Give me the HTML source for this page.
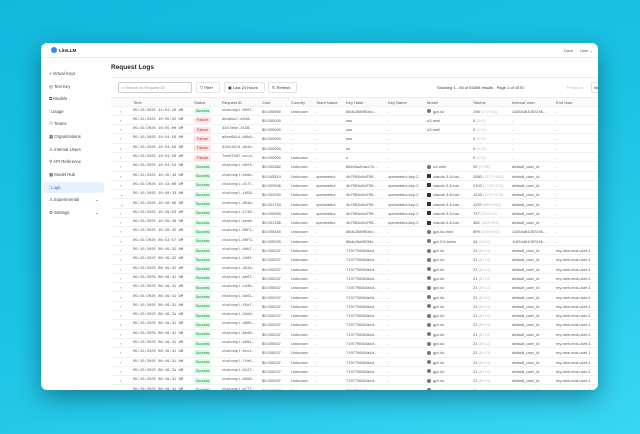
<!DOCTYPE html>
<html><head><meta charset="utf-8"><style>
*{margin:0;padding:0;box-sizing:border-box}
body{width:640px;height:434px;overflow:hidden;background:linear-gradient(160deg,#12b9dc 0%,#1cc3e4 50%,#38d6f4 100%);font-family:"Liberation Sans",sans-serif;position:relative}
.win{position:absolute;left:41px;top:43px;width:557px;height:347px;background:#fff;border-radius:6px;overflow:hidden;box-shadow:0 8px 24px rgba(0,40,60,.45)}
.hdr{position:absolute;left:0;top:0;width:557px;height:15px;border-bottom:1px solid #eee}
.logo{position:absolute;left:10px;top:4px;width:6px;height:6px;border-radius:50%;background:#3b82f6}
.t{position:absolute;font-size:4px;color:#555;white-space:nowrap;line-height:5px}
.side .t{font-size:4.3px;color:#444}
.sel{position:absolute;left:2px;top:139px;width:61px;height:11px;background:#e6f3ff;border-radius:3px}
.main{position:absolute;left:70px;top:15px;width:487px;height:332px;background:#fff}
.card{position:absolute;left:0;top:19px;width:487px;height:320px;border-top:1px solid #eee}
.btn{position:absolute;height:11px;border:1px solid #e3e3e3;border-radius:2px;background:#fff}
.row{position:absolute;left:0;width:487px;height:9.3px;border-bottom:1px solid #f0f0f0}
.row .t{top:2px}
.b{position:absolute;top:1.6px;left:83px;width:17px;height:6px;border-radius:1.5px;font-size:3.6px;line-height:6px;text-align:center}
.s{background:#dcfce7;color:#16803c}.f{background:#fee2e2;color:#c02626}
.m{font-family:"Liberation Mono",monospace;font-size:3.8px}
.i{position:absolute;top:2.5px;left:316px;width:4px;height:4px;border-radius:50%;background:#777}
.g{color:#bbb}
</style></head><body>
<div class="win">
<div class="hdr"><div class="logo"></div><div class="t" style="left:18px;top:5px;font-weight:bold;color:#222;font-size:4.5px">LiteLLM</div>
<div class="t" style="left:523px;top:5px">Docs</div><div class="t" style="left:539px;top:5px">User ⌄</div></div>
<div class="side">
<div class="sel"></div>
<div class="t" style="left:8px;top:27.5px">⌕ Virtual Keys</div>
<div class="t" style="left:8px;top:41px">◎ Test Key</div>
<div class="t" style="left:8px;top:53px">⧉ Models</div>
<div class="t" style="left:8px;top:66px">⫶ Usage</div>
<div class="t" style="left:8px;top:78px">⚇ Teams</div>
<div class="t" style="left:8px;top:91px">▦ Organizations</div>
<div class="t" style="left:8px;top:104px">♙ Internal Users</div>
<div class="t" style="left:8px;top:116px">⚲ API Reference</div>
<div class="t" style="left:8px;top:129px">▦ Model Hub</div>
<div class="t" style="left:8px;top:142px;color:#2563eb">⫶ Logs</div>
<div class="t" style="left:8px;top:154px">♙ Experimental</div><div class="t" style="left:54px;top:154px">⌄</div>
<div class="t" style="left:8px;top:167px">⚙ Settings</div><div class="t" style="left:54px;top:167px">⌄</div>
</div>
<div class="main">
<div class="t" style="left:0;top:6px;font-size:6.5px;font-weight:bold;color:#222;line-height:8px">Request Logs</div>
<div class="card">
<div class="btn" style="left:7px;top:4px;width:74px;border-color:#ccc"></div><div class="t" style="left:11px;top:7px;color:#999">⌕ Search by Request ID</div>
<div class="btn" style="left:85px;top:4px;width:24px"></div><div class="t" style="left:89px;top:7px;color:#333">▽ Filter</div>
<div class="btn" style="left:113px;top:4px;width:41px"></div><div class="t" style="left:117px;top:7px;color:#333">▣ Last 24 Hours</div>
<div class="btn" style="left:157px;top:4px;width:29px"></div><div class="t" style="left:161px;top:7px;color:#333">↻ Refresh</div>
<div class="t" style="left:326px;top:7px;color:#333">Showing 1 - 50 of 53494 results&nbsp;&nbsp; Page 1 of 1070</div>
<div class="t" style="left:456px;top:7px;color:#bbb">Previous</div>
<div class="btn" style="left:480px;top:4px;width:12px"></div><div class="t" style="left:483px;top:7px;color:#333">Ne</div>
<div class="row" style="top:19px;height:10px;background:#fafafa;border-top:1px solid #eee"><div class="t" style="left:22px">Time</div><div class="t" style="left:83px">Status</div><div class="t" style="left:111px">Request ID</div><div class="t" style="left:151px">Cost</div><div class="t" style="left:180px">Country</div><div class="t" style="left:205px">Team Name</div><div class="t" style="left:235px">Key Hash</div><div class="t" style="left:277px">Key Name</div><div class="t" style="left:316px">Model</div><div class="t" style="left:362px">Tokens</div><div class="t" style="left:401px">Internal User</div><div class="t" style="left:445px">End User</div></div>
</div>
<!-- rows -->
<div style="position:absolute;left:0;top:48.5px;width:487px">
<div class="row" style="top:0"><div class="t" style="left:9px">›</div><div class="t m" style="left:22px">05/15/2025 11:02:18 AM</div><div class="b s">Success</div><div class="t m" style="left:111px">chatcmpl-8007…</div><div class="t" style="left:151px">$0.000690</div><div class="t" style="left:180px">Unknown</div><div class="t" style="left:205px">-</div><div class="t" style="left:235px">88dc28d9f034c…</div><div class="t" style="left:277px">-</div><div class="i"></div><div class="t" style="left:322px">gpt-4o</div><div class="t" style="left:362px">198 <span class="g">(172+26)</span></div><div class="t" style="left:401px">11654481087246…</div><div class="t" style="left:445px">-</div></div>
<div class="row" style="top:9.3px"><div class="t" style="left:9px">›</div><div class="t m" style="left:22px">05/15/2025 10:55:02 AM</div><div class="b f">Failure</div><div class="t m" style="left:111px">d8da5a7-e048…</div><div class="t" style="left:151px">$0.000000</div><div class="t" style="left:180px">-</div><div class="t" style="left:205px">-</div><div class="t" style="left:235px">sss</div><div class="t" style="left:277px">-</div><div class="t" style="left:316px">o3-mini</div><div class="t" style="left:362px">0 <span class="g">(0+0)</span></div><div class="t" style="left:401px">-</div><div class="t" style="left:445px">-</div></div>
<div class="row" style="top:18.6px"><div class="t" style="left:9px">›</div><div class="t m" style="left:22px">05/15/2025 10:55:00 AM</div><div class="b f">Failure</div><div class="t m" style="left:111px">4347e8e-3138…</div><div class="t" style="left:151px">$0.000000</div><div class="t" style="left:180px">-</div><div class="t" style="left:205px">-</div><div class="t" style="left:235px">sss</div><div class="t" style="left:277px">-</div><div class="t" style="left:316px">o3-mini</div><div class="t" style="left:362px">0 <span class="g">(0+0)</span></div><div class="t" style="left:401px">-</div><div class="t" style="left:445px">-</div></div>
<div class="row" style="top:27.9px"><div class="t" style="left:9px">›</div><div class="t m" style="left:22px">05/15/2025 10:54:59 AM</div><div class="b f">Failure</div><div class="t m" style="left:111px">a8ee6814-b8b8…</div><div class="t" style="left:151px">$0.000000</div><div class="t" style="left:180px">-</div><div class="t" style="left:205px">-</div><div class="t" style="left:235px">sss</div><div class="t" style="left:277px">-</div><div class="t" style="left:362px">0 <span class="g">(0+0)</span></div><div class="t" style="left:401px">-</div><div class="t" style="left:445px">-</div></div>
<div class="row" style="top:37.2px"><div class="t" style="left:9px">›</div><div class="t m" style="left:22px">05/15/2025 10:54:59 AM</div><div class="b f">Failure</div><div class="t m" style="left:111px">334c187d-4b4e…</div><div class="t" style="left:151px">$0.000000</div><div class="t" style="left:180px">-</div><div class="t" style="left:205px">-</div><div class="t" style="left:235px">ss</div><div class="t" style="left:277px">-</div><div class="t" style="left:362px">0 <span class="g">(0+0)</span></div><div class="t" style="left:401px">-</div><div class="t" style="left:445px">-</div></div>
<div class="row" style="top:46.5px"><div class="t" style="left:9px">›</div><div class="t m" style="left:22px">05/15/2025 10:54:58 AM</div><div class="b f">Failure</div><div class="t m" style="left:111px">7eb67387-bcc2…</div><div class="t" style="left:151px">$0.000000</div><div class="t" style="left:180px">Unknown</div><div class="t" style="left:205px">-</div><div class="t" style="left:235px">s</div><div class="t" style="left:277px">-</div><div class="t" style="left:362px">0 <span class="g">(0+0)</span></div><div class="t" style="left:401px">-</div><div class="t" style="left:445px">-</div></div>
<div class="row" style="top:55.8px"><div class="t" style="left:9px">›</div><div class="t m" style="left:22px">05/15/2025 10:54:54 AM</div><div class="b s">Success</div><div class="t m" style="left:111px">chatcmpl-b8f4…</div><div class="t" style="left:151px">$0.000382</div><div class="t" style="left:180px">Unknown</div><div class="t" style="left:205px">-</div><div class="t" style="left:235px">86ec5a2eac17e…</div><div class="t" style="left:277px">-</div><div class="i"></div><div class="t" style="left:322px">o3-mini</div><div class="t" style="left:362px">92 <span class="g">(7+85)</span></div><div class="t" style="left:401px">default_user_id</div><div class="t" style="left:445px">-</div></div>
<div class="row" style="top:65.1px"><div class="t" style="left:9px">›</div><div class="t m" style="left:22px">05/15/2025 10:45:49 AM</div><div class="b s">Success</div><div class="t m" style="left:111px">chatcmpl-eb6e…</div><div class="t" style="left:151px">$0.003514</div><div class="t" style="left:180px">Unknown</div><div class="t" style="left:205px">openwebui</div><div class="t" style="left:235px">4b7953c6cf795…</div><div class="t" style="left:277px">openwebui-key-2</div><div class="i" style="background:#333;border-radius:0"></div><div class="t" style="left:322px">claude-3-5-hai…</div><div class="t" style="left:362px">2580 <span class="g">(2127+453)</span></div><div class="t" style="left:401px">default_user_id</div><div class="t" style="left:445px">-</div></div>
<div class="row" style="top:74.4px"><div class="t" style="left:9px">›</div><div class="t m" style="left:22px">05/15/2025 10:43:00 AM</div><div class="b s">Success</div><div class="t m" style="left:111px">chatcmpl-4177…</div><div class="t" style="left:151px">$0.002906</div><div class="t" style="left:180px">Unknown</div><div class="t" style="left:205px">openwebui</div><div class="t" style="left:235px">4b7953c6cf795…</div><div class="t" style="left:277px">openwebui-key-2</div><div class="i" style="background:#333;border-radius:0"></div><div class="t" style="left:322px">claude-3-5-hai…</div><div class="t" style="left:362px">2102 <span class="g">(1732+370)</span></div><div class="t" style="left:401px">default_user_id</div><div class="t" style="left:445px">-</div></div>
<div class="row" style="top:83.7px"><div class="t" style="left:9px">⌄</div><div class="t m" style="left:22px">05/15/2025 10:40:33 AM</div><div class="b s">Success</div><div class="t m" style="left:111px">chatcmpl-1858…</div><div class="t" style="left:151px">$0.002030</div><div class="t" style="left:180px">Unknown</div><div class="t" style="left:205px">openwebui</div><div class="t" style="left:235px">4b7953c6cf795…</div><div class="t" style="left:277px">openwebui-key-2</div><div class="i" style="background:#333;border-radius:0"></div><div class="t" style="left:322px">claude-3-5-hai…</div><div class="t" style="left:362px">1433 <span class="g">(1157+276)</span></div><div class="t" style="left:401px">default_user_id</div><div class="t" style="left:445px">-</div></div>
<div class="row" style="top:93px"><div class="t" style="left:9px">⌄</div><div class="t m" style="left:22px">05/15/2025 10:40:08 AM</div><div class="b s">Success</div><div class="t m" style="left:111px">chatcmpl-803a…</div><div class="t" style="left:151px">$0.001734</div><div class="t" style="left:180px">Unknown</div><div class="t" style="left:205px">openwebui</div><div class="t" style="left:235px">4b7953c6cf795…</div><div class="t" style="left:277px">openwebui-key-2</div><div class="i" style="background:#333;border-radius:0"></div><div class="t" style="left:322px">claude-3-5-hai…</div><div class="t" style="left:362px">1139 <span class="g">(885+254)</span></div><div class="t" style="left:401px">default_user_id</div><div class="t" style="left:445px">-</div></div>
<div class="row" style="top:102.3px"><div class="t" style="left:9px">›</div><div class="t m" style="left:22px">05/15/2025 10:39:53 AM</div><div class="b s">Success</div><div class="t m" style="left:111px">chatcmpl-1748…</div><div class="t" style="left:151px">$0.000955</div><div class="t" style="left:180px">Unknown</div><div class="t" style="left:205px">openwebui</div><div class="t" style="left:235px">4b7953c6cf795…</div><div class="t" style="left:277px">openwebui-key-2</div><div class="i" style="background:#333;border-radius:0"></div><div class="t" style="left:322px">claude-3-5-hai…</div><div class="t" style="left:362px">727 <span class="g">(704+23)</span></div><div class="t" style="left:401px">default_user_id</div><div class="t" style="left:445px">-</div></div>
<div class="row" style="top:111.6px"><div class="t" style="left:9px">›</div><div class="t m" style="left:22px">05/15/2025 10:39:46 AM</div><div class="b s">Success</div><div class="t m" style="left:111px">chatcmpl-eea6…</div><div class="t" style="left:151px">$0.001336</div><div class="t" style="left:180px">Unknown</div><div class="t" style="left:205px">openwebui</div><div class="t" style="left:235px">4b7953c6cf795…</div><div class="t" style="left:277px">openwebui-key-2</div><div class="i" style="background:#333;border-radius:0"></div><div class="t" style="left:322px">claude-3-5-hai…</div><div class="t" style="left:362px">482 <span class="g">(180+302)</span></div><div class="t" style="left:401px">default_user_id</div><div class="t" style="left:445px">-</div></div>
<div class="row" style="top:120.9px"><div class="t" style="left:9px">›</div><div class="t m" style="left:22px">05/15/2025 10:38:45 AM</div><div class="b s">Success</div><div class="t m" style="left:111px">chatcmpl-80F1…</div><div class="t" style="left:151px">$0.000445</div><div class="t" style="left:180px">Unknown</div><div class="t" style="left:205px">-</div><div class="t" style="left:235px">88dc28d9f034c…</div><div class="t" style="left:277px">-</div><div class="i"></div><div class="t" style="left:322px">gpt-4o-mini</div><div class="t" style="left:362px">899 <span class="g">(209+690)</span></div><div class="t" style="left:401px">11654481087246…</div><div class="t" style="left:445px">-</div></div>
<div class="row" style="top:130.2px"><div class="t" style="left:9px">›</div><div class="t m" style="left:22px">05/15/2025 09:53:57 AM</div><div class="b s">Success</div><div class="t m" style="left:111px">chatcmpl-80F3…</div><div class="t" style="left:151px">$0.000025</div><div class="t" style="left:180px">Unknown</div><div class="t" style="left:205px">-</div><div class="t" style="left:235px">88dc28d9f034c…</div><div class="t" style="left:277px">-</div><div class="i"></div><div class="t" style="left:322px">gpt-3.5-turbo</div><div class="t" style="left:362px">44 <span class="g">(41+3)</span></div><div class="t" style="left:401px">11654481087246…</div><div class="t" style="left:445px">-</div></div>
<div class="row" style="top:139.5px"><div class="t" style="left:9px">›</div><div class="t m" style="left:22px">05/15/2025 08:49:32 AM</div><div class="b s">Success</div><div class="t m" style="left:111px">chatcmpl-6db7…</div><div class="t" style="left:151px">$0.000037</div><div class="t" style="left:180px">Unknown</div><div class="t" style="left:205px">-</div><div class="t" style="left:235px">719779841fa4d…</div><div class="t" style="left:277px">-</div><div class="i"></div><div class="t" style="left:322px">gpt-4o</div><div class="t" style="left:362px">21 <span class="g">(8+13)</span></div><div class="t" style="left:401px">default_user_id</div><div class="t" style="left:445px">my-new-end-user-1</div></div>
<div class="row" style="top:148.8px"><div class="t" style="left:9px">›</div><div class="t m" style="left:22px">05/15/2025 08:49:32 AM</div><div class="b s">Success</div><div class="t m" style="left:111px">chatcmpl-2d0f…</div><div class="t" style="left:151px">$0.000037</div><div class="t" style="left:180px">Unknown</div><div class="t" style="left:205px">-</div><div class="t" style="left:235px">719779841fa4d…</div><div class="t" style="left:277px">-</div><div class="i"></div><div class="t" style="left:322px">gpt-4o</div><div class="t" style="left:362px">21 <span class="g">(8+13)</span></div><div class="t" style="left:401px">default_user_id</div><div class="t" style="left:445px">my-new-end-user-1</div></div>
<div class="row" style="top:158.1px"><div class="t" style="left:9px">›</div><div class="t m" style="left:22px">05/15/2025 08:49:32 AM</div><div class="b s">Success</div><div class="t m" style="left:111px">chatcmpl-d52a…</div><div class="t" style="left:151px">$0.000037</div><div class="t" style="left:180px">Unknown</div><div class="t" style="left:205px">-</div><div class="t" style="left:235px">719779841fa4d…</div><div class="t" style="left:277px">-</div><div class="i"></div><div class="t" style="left:322px">gpt-4o</div><div class="t" style="left:362px">21 <span class="g">(8+13)</span></div><div class="t" style="left:401px">default_user_id</div><div class="t" style="left:445px">my-new-end-user-1</div></div>
<div class="row" style="top:167.4px"><div class="t" style="left:9px">›</div><div class="t m" style="left:22px">05/15/2025 08:49:31 AM</div><div class="b s">Success</div><div class="t m" style="left:111px">chatcmpl-a087…</div><div class="t" style="left:151px">$0.000037</div><div class="t" style="left:180px">Unknown</div><div class="t" style="left:205px">-</div><div class="t" style="left:235px">719779841fa4d…</div><div class="t" style="left:277px">-</div><div class="i"></div><div class="t" style="left:322px">gpt-4o</div><div class="t" style="left:362px">21 <span class="g">(8+13)</span></div><div class="t" style="left:401px">default_user_id</div><div class="t" style="left:445px">my-new-end-user-1</div></div>
<div class="row" style="top:176.7px"><div class="t" style="left:9px">›</div><div class="t m" style="left:22px">05/15/2025 08:49:31 AM</div><div class="b s">Success</div><div class="t m" style="left:111px">chatcmpl-cd3b…</div><div class="t" style="left:151px">$0.000037</div><div class="t" style="left:180px">Unknown</div><div class="t" style="left:205px">-</div><div class="t" style="left:235px">719779841fa4d…</div><div class="t" style="left:277px">-</div><div class="i"></div><div class="t" style="left:322px">gpt-4o</div><div class="t" style="left:362px">21 <span class="g">(8+13)</span></div><div class="t" style="left:401px">default_user_id</div><div class="t" style="left:445px">my-new-end-user-1</div></div>
<div class="row" style="top:186px"><div class="t" style="left:9px">›</div><div class="t m" style="left:22px">05/15/2025 08:49:31 AM</div><div class="b s">Success</div><div class="t m" style="left:111px">chatcmpl-da61…</div><div class="t" style="left:151px">$0.000037</div><div class="t" style="left:180px">Unknown</div><div class="t" style="left:205px">-</div><div class="t" style="left:235px">719779841fa4d…</div><div class="t" style="left:277px">-</div><div class="i"></div><div class="t" style="left:322px">gpt-4o</div><div class="t" style="left:362px">21 <span class="g">(8+13)</span></div><div class="t" style="left:401px">default_user_id</div><div class="t" style="left:445px">my-new-end-user-1</div></div>
<div class="row" style="top:195.3px"><div class="t" style="left:9px">›</div><div class="t m" style="left:22px">05/15/2025 08:49:31 AM</div><div class="b s">Success</div><div class="t m" style="left:111px">chatcmpl-f5e7…</div><div class="t" style="left:151px">$0.000037</div><div class="t" style="left:180px">Unknown</div><div class="t" style="left:205px">-</div><div class="t" style="left:235px">719779841fa4d…</div><div class="t" style="left:277px">-</div><div class="i"></div><div class="t" style="left:322px">gpt-4o</div><div class="t" style="left:362px">21 <span class="g">(8+13)</span></div><div class="t" style="left:401px">default_user_id</div><div class="t" style="left:445px">my-new-end-user-1</div></div>
<div class="row" style="top:204.6px"><div class="t" style="left:9px">›</div><div class="t m" style="left:22px">05/15/2025 08:49:31 AM</div><div class="b s">Success</div><div class="t m" style="left:111px">chatcmpl-43e9…</div><div class="t" style="left:151px">$0.000037</div><div class="t" style="left:180px">Unknown</div><div class="t" style="left:205px">-</div><div class="t" style="left:235px">719779841fa4d…</div><div class="t" style="left:277px">-</div><div class="i"></div><div class="t" style="left:322px">gpt-4o</div><div class="t" style="left:362px">21 <span class="g">(8+13)</span></div><div class="t" style="left:401px">default_user_id</div><div class="t" style="left:445px">my-new-end-user-1</div></div>
<div class="row" style="top:213.9px"><div class="t" style="left:9px">›</div><div class="t m" style="left:22px">05/15/2025 08:49:31 AM</div><div class="b s">Success</div><div class="t m" style="left:111px">chatcmpl-d865…</div><div class="t" style="left:151px">$0.000037</div><div class="t" style="left:180px">Unknown</div><div class="t" style="left:205px">-</div><div class="t" style="left:235px">719779841fa4d…</div><div class="t" style="left:277px">-</div><div class="i"></div><div class="t" style="left:322px">gpt-4o</div><div class="t" style="left:362px">21 <span class="g">(8+13)</span></div><div class="t" style="left:401px">default_user_id</div><div class="t" style="left:445px">my-new-end-user-1</div></div>
<div class="row" style="top:223.2px"><div class="t" style="left:9px">›</div><div class="t m" style="left:22px">05/15/2025 08:49:31 AM</div><div class="b s">Success</div><div class="t m" style="left:111px">chatcmpl-6ed8…</div><div class="t" style="left:151px">$0.000037</div><div class="t" style="left:180px">Unknown</div><div class="t" style="left:205px">-</div><div class="t" style="left:235px">719779841fa4d…</div><div class="t" style="left:277px">-</div><div class="i"></div><div class="t" style="left:322px">gpt-4o</div><div class="t" style="left:362px">21 <span class="g">(8+13)</span></div><div class="t" style="left:401px">default_user_id</div><div class="t" style="left:445px">my-new-end-user-1</div></div>
<div class="row" style="top:232.5px"><div class="t" style="left:9px">›</div><div class="t m" style="left:22px">05/15/2025 08:49:31 AM</div><div class="b s">Success</div><div class="t m" style="left:111px">chatcmpl-e891…</div><div class="t" style="left:151px">$0.000037</div><div class="t" style="left:180px">Unknown</div><div class="t" style="left:205px">-</div><div class="t" style="left:235px">719779841fa4d…</div><div class="t" style="left:277px">-</div><div class="i"></div><div class="t" style="left:322px">gpt-4o</div><div class="t" style="left:362px">21 <span class="g">(8+13)</span></div><div class="t" style="left:401px">default_user_id</div><div class="t" style="left:445px">my-new-end-user-1</div></div>
<div class="row" style="top:241.8px"><div class="t" style="left:9px">›</div><div class="t m" style="left:22px">05/15/2025 08:49:31 AM</div><div class="b s">Success</div><div class="t m" style="left:111px">chatcmpl-6cc1…</div><div class="t" style="left:151px">$0.000037</div><div class="t" style="left:180px">Unknown</div><div class="t" style="left:205px">-</div><div class="t" style="left:235px">719779841fa4d…</div><div class="t" style="left:277px">-</div><div class="i"></div><div class="t" style="left:322px">gpt-4o</div><div class="t" style="left:362px">21 <span class="g">(8+13)</span></div><div class="t" style="left:401px">default_user_id</div><div class="t" style="left:445px">my-new-end-user-1</div></div>
<div class="row" style="top:251.1px"><div class="t" style="left:9px">›</div><div class="t m" style="left:22px">05/15/2025 08:49:31 AM</div><div class="b s">Success</div><div class="t m" style="left:111px">chatcmpl-7fe5…</div><div class="t" style="left:151px">$0.000037</div><div class="t" style="left:180px">Unknown</div><div class="t" style="left:205px">-</div><div class="t" style="left:235px">719779841fa4d…</div><div class="t" style="left:277px">-</div><div class="i"></div><div class="t" style="left:322px">gpt-4o</div><div class="t" style="left:362px">21 <span class="g">(8+13)</span></div><div class="t" style="left:401px">default_user_id</div><div class="t" style="left:445px">my-new-end-user-1</div></div>
<div class="row" style="top:260.4px"><div class="t" style="left:9px">›</div><div class="t m" style="left:22px">05/15/2025 08:49:31 AM</div><div class="b s">Success</div><div class="t m" style="left:111px">chatcmpl-8147…</div><div class="t" style="left:151px">$0.000037</div><div class="t" style="left:180px">Unknown</div><div class="t" style="left:205px">-</div><div class="t" style="left:235px">719779841fa4d…</div><div class="t" style="left:277px">-</div><div class="i"></div><div class="t" style="left:322px">gpt-4o</div><div class="t" style="left:362px">21 <span class="g">(8+13)</span></div><div class="t" style="left:401px">default_user_id</div><div class="t" style="left:445px">my-new-end-user-1</div></div>
<div class="row" style="top:269.7px"><div class="t" style="left:9px">›</div><div class="t m" style="left:22px">05/15/2025 08:49:31 AM</div><div class="b s">Success</div><div class="t m" style="left:111px">chatcmpl-8968…</div><div class="t" style="left:151px">$0.000037</div><div class="t" style="left:180px">Unknown</div><div class="t" style="left:205px">-</div><div class="t" style="left:235px">719779841fa4d…</div><div class="t" style="left:277px">-</div><div class="i"></div><div class="t" style="left:322px">gpt-4o</div><div class="t" style="left:362px">21 <span class="g">(8+13)</span></div><div class="t" style="left:401px">default_user_id</div><div class="t" style="left:445px">my-new-end-user-1</div></div>
<div class="row" style="top:279px"><div class="t" style="left:9px">›</div><div class="t m" style="left:22px">05/15/2025 08:49:31 AM</div><div class="b s">Success</div><div class="t m" style="left:111px">chatcmpl-a777…</div><div class="t" style="left:151px">$0.000037</div><div class="t" style="left:180px">Unknown</div><div class="t" style="left:205px">-</div><div class="t" style="left:235px">719779841fa4d…</div><div class="t" style="left:277px">-</div><div class="i"></div><div class="t" style="left:322px">gpt-4o</div><div class="t" style="left:362px">21 <span class="g">(8+13)</span></div><div class="t" style="left:401px">default_user_id</div><div class="t" style="left:445px">my-new-end-user-1</div></div>
</div>
</div>
</div>
</body></html>
